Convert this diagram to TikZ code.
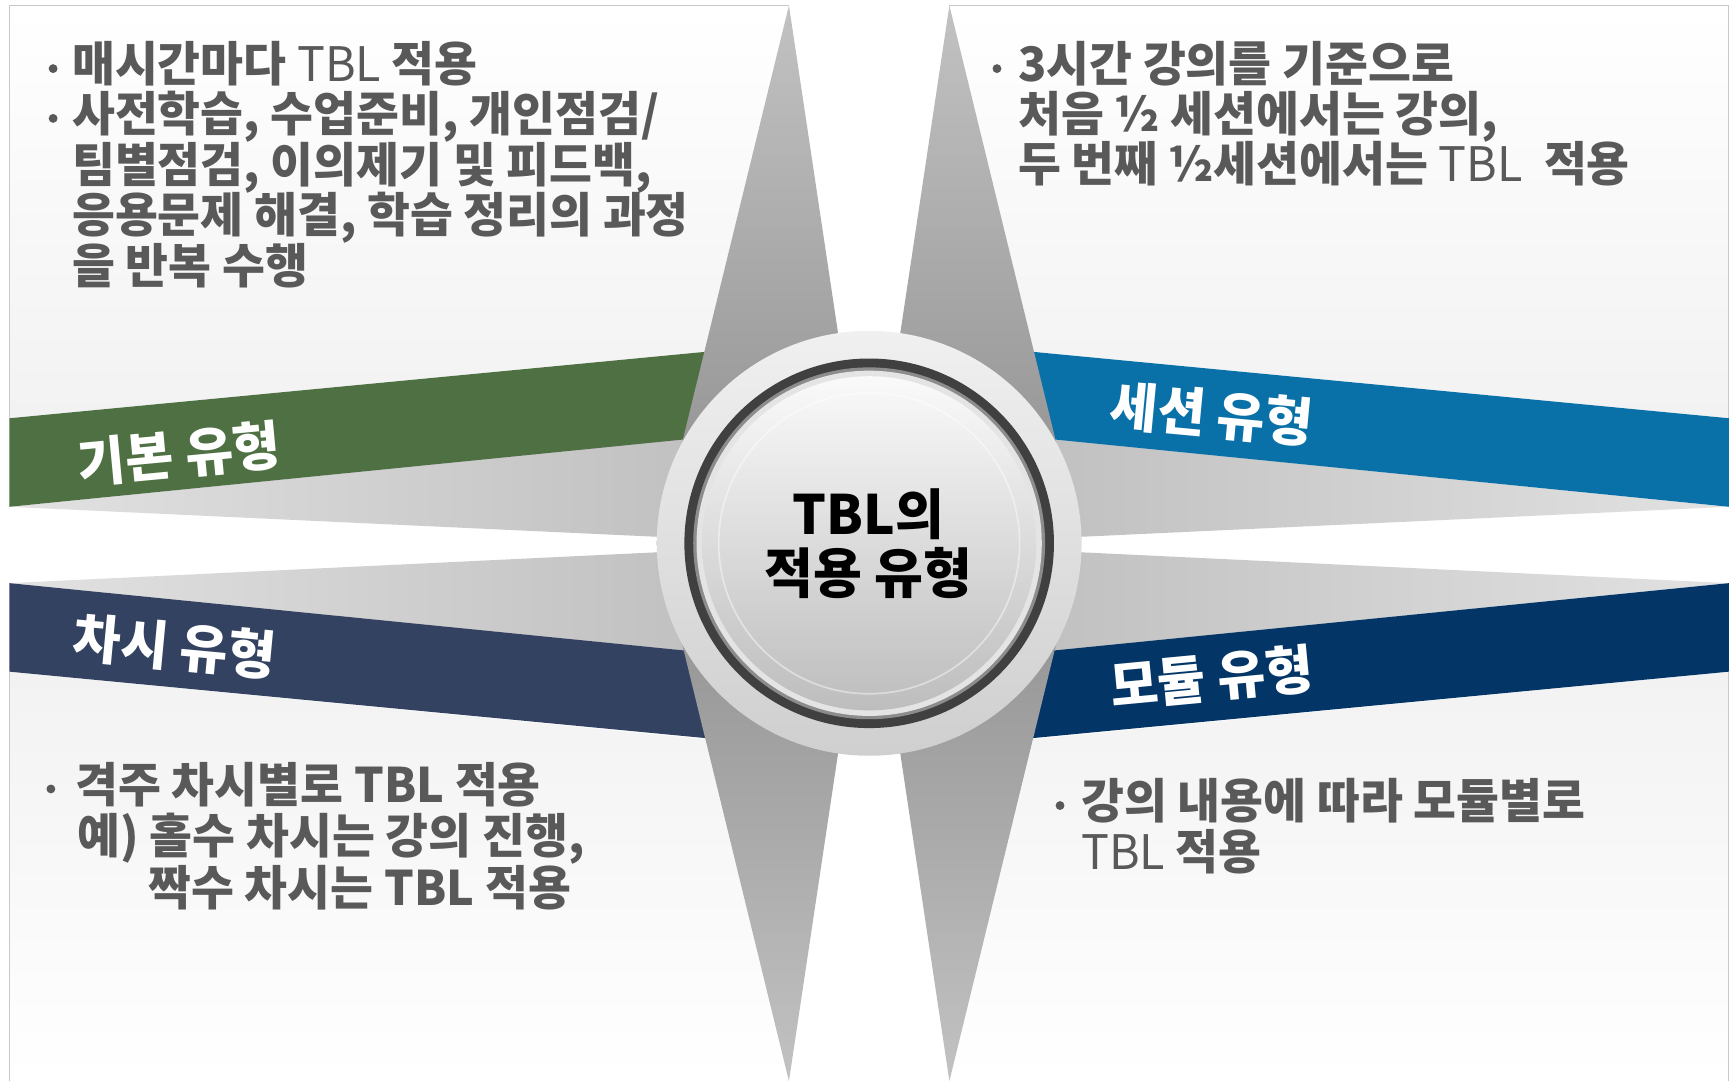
\documentclass[tikz,border=0pt]{standalone}
\usepackage{fontspec}
\setmainfont{Noto Sans CJK KR}[FakeStretch=0.98]
\definecolor{bandgreen}{HTML}{4E7042}
\definecolor{bandblue}{HTML}{0A71A8}
\definecolor{bandslate}{HTML}{334261}
\definecolor{bandnavy}{HTML}{033566}
\definecolor{txtgray}{HTML}{595959}
\definecolor{bordergray}{HTML}{C8C8C8}
\definecolor{spikelight}{HTML}{C2C2C2}
\definecolor{spikedark}{HTML}{8E8E8E}
\definecolor{wedgelight}{HTML}{E2E2E2}
\definecolor{wedgedark}{HTML}{B8B8B8}
\definecolor{panelgray}{HTML}{F2F2F2}
\definecolor{ringtop}{HTML}{F0F0F0}
\definecolor{ringbot}{HTML}{CFCFCF}
\definecolor{darkring}{HTML}{404040}
\definecolor{midring}{HTML}{8C8C8C}
\definecolor{lightring}{HTML}{E4E4E4}
\definecolor{disktop}{HTML}{FAFAFA}
\definecolor{diskbot}{HTML}{BDBDBD}
\tikzset{
  body/.style={anchor=base west, inner sep=0pt, text=txtgray,
    font=\fontsize{43}{45}\selectfont\bfseries},
  bulletdot/.style={circle, fill=txtgray, minimum size=8pt, inner sep=0pt},
  bandlabel/.style={inner sep=0pt, text=white, font=\fontsize{48}{52}\selectfont\bfseries},
  hublabel/.style={inner sep=0pt, text=black, font=\fontsize{49}{52}\selectfont\bfseries},
}
\begin{document}
\begin{tikzpicture}[x=1pt,y=-1pt]
\useasboundingbox (0,0) rectangle (1568,977);
\fill[white] (0,0) rectangle (1568,977);

% panels
\shade[top color=white, bottom color=panelgray] (8.5,5)--(713,5)--(637,318)--(8.5,378)--cycle;
\shade[top color=white, bottom color=panelgray] (1562.5,5)--(858,5)--(934,318)--(1562.5,378)--cycle;
\shade[top color=panelgray, bottom color=white] (8.5,607)--(637,668)--(713,977)--(8.5,977)--cycle;
\shade[top color=panelgray, bottom color=white] (1562.5,607)--(934,668)--(858,977)--(1562.5,977)--cycle;

% horizontal wedges
\shade[left color=wedgelight, right color=wedgedark] (8.5,458)--(786,380)--(786,494)--cycle;
\shade[right color=wedgelight, left color=wedgedark] (1562.5,458)--(785,380)--(785,494)--cycle;
\shade[left color=wedgelight, right color=wedgedark] (8.5,527)--(786,490)--(786,605)--cycle;
\shade[right color=wedgelight, left color=wedgedark] (1562.5,527)--(785,490)--(785,605)--cycle;

% bands
\fill[bandgreen] (8.5,378)--(700,312)--(700,389)--(8.5,458)--cycle;
\fill[bandblue] (1562.5,378)--(871,312)--(871,389)--(1562.5,458)--cycle;
\fill[bandslate] (8.5,527)--(700,596)--(700,673)--(8.5,607)--cycle;
\fill[bandnavy] (1562.5,527)--(871,596)--(871,673)--(1562.5,607)--cycle;

% vertical spikes
\shade[top color=spikelight, bottom color=spikedark] (713,5)--(594,492)--(786,492)--cycle;
\shade[top color=spikelight, bottom color=spikedark] (858,5)--(977,492)--(785,492)--cycle;
\shade[top color=spikedark, bottom color=spikelight] (713,977)--(594,490)--(786,490)--cycle;
\shade[top color=spikedark, bottom color=spikelight] (858,977)--(977,490)--(785,490)--cycle;

% borders
\draw[bordergray, line width=1pt] (8.5,378)--(8.5,5)--(713,5);
\draw[bordergray, line width=1pt] (858,5)--(1562.5,5)--(1562.5,378);
\draw[bordergray, line width=1pt] (8.5,607)--(8.5,977);
\draw[bordergray, line width=1pt] (1562.5,607)--(1562.5,977);

% hub
\coordinate (c) at (785.5,491);
\shade[top color=ringtop, bottom color=ringbot] (c) circle (192);
\fill[darkring] (c) circle (167);
\fill[midring] (c) circle (159);
\fill[lightring] (c) circle (156);
\shade[top color=disktop, bottom color=diskbot] (c) circle (151);
\draw[white, opacity=0.45, line width=1.5pt] (c) circle (136);

\node[hublabel] (hub1) at (785,465) {TBL의};
\node[hublabel] (hub2) at (785,518) {적용 유형};

% band labels
\node[bandlabel, rotate=5.4] (lab1) at (162,410) {기본 유형};
\node[bandlabel, rotate=-5.4] (lab2) at (1095,374) {세션 유형};
\node[bandlabel, rotate=-5.4] (lab3) at (158,584) {차시 유형};
\node[bandlabel, rotate=5.4] (lab4) at (1095,612) {모듈 유형};

% top-left text
\node[bulletdot] (tlb1) at (48,62) {};
\node[bulletdot] (tlb2) at (48,107) {};
\node[body] (tl1) at (65,74) {매시간마다 {\mdseries TBL} 적용};
\node[body] (tl2) at (65,119) {사전학습, 수업준비, 개인점검/};
\node[body] (tl3) at (65,165) {팀별점검, 이의제기 및 피드백,};
\node[body] (tl4) at (65,210) {응용문제 해결, 학습 정리의 과정};
\node[body] (tl5) at (65,256) {을 반복 수행};

% top-right text
\node[bulletdot] (trb1) at (901,62) {};
\node[body] (tr1) at (920,74) {3시간 강의를 기준으로};
\node[body] (tr2) at (920,119) {처음 ½ 세션에서는 강의,};
\node[body] (tr3) at (920,164) {두 번째 ½세션에서는 {\mdseries TBL}\ \ 적용};

% bottom-left text
\node[bulletdot] (blb1) at (46,713) {};
\node[body] (bl1) at (68,725) {격주 차시별로 TBL 적용};
\node[body] (bl2) at (70,771) {예) 홀수 차시는 강의 진행,};
\node[body] (bl3) at (134,818) {짝수 차시는 TBL 적용};

% bottom-right text
\node[bulletdot] (brb1) at (958,728) {};
\node[body] (br1) at (977,740) {강의 내용에 따라 모듈별로};
\node[body] (br2) at (977,786) {{\mdseries TBL} 적용};
\end{tikzpicture}
\end{document}
